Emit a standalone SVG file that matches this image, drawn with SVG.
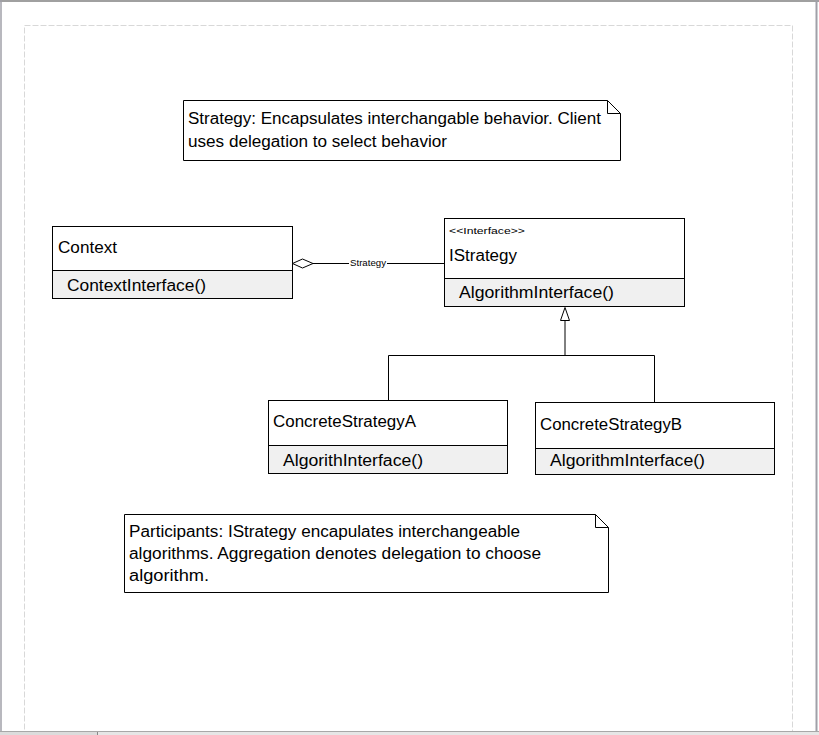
<svg xmlns="http://www.w3.org/2000/svg" width="819" height="735" viewBox="0 0 819 735">
<defs>
<style>
.box{fill:#ffffff;stroke:#000000;stroke-width:1}
.ops{fill:#f0f0f0;stroke:#000000;stroke-width:1}
.t{font-family:"Liberation Sans",Arial,sans-serif;font-size:16px;fill:#000000}
.s{font-family:"Liberation Sans",Arial,sans-serif;font-size:9px;fill:#000000}
.ln{fill:none;stroke:#000000;stroke-width:1}
</style>
<linearGradient id="sh" x1="0" x2="1" y1="0" y2="0">
<stop offset="0" stop-color="#cccccc"/>
<stop offset="0.5" stop-color="#111111"/>
<stop offset="1" stop-color="#999999"/>
</linearGradient>
</defs>
<rect x="0" y="0" width="819" height="735" fill="#ffffff"/>
<g id="frame">
<line x1="0" y1="1" x2="819" y2="1" stroke="#a0a0a0" stroke-width="2"/>
<line x1="1" y1="0" x2="1" y2="735" stroke="#a0a0a8" stroke-width="1.5"/>
<line x1="816.5" y1="0" x2="816.5" y2="735" stroke="#a0a0a8" stroke-width="2"/>
<rect x="24.5" y="25.5" width="768" height="720" fill="none" stroke="#d8d8d8" stroke-width="1" stroke-dasharray="6,2"/>
<rect x="0" y="731" width="819" height="4" fill="#e6e6e6"/>
<line x1="0" y1="731.5" x2="819" y2="731.5" stroke="#a8a8a8"/>
<rect x="0" y="732" width="97" height="3" fill="#dcdcdc"/>
<line x1="97.5" y1="732" x2="97.5" y2="735" stroke="#888888"/>
</g>
<g id="note1">
<path class="box" d="M183.5,100.5 H607.5 L620.5,113.5 V160.5 H183.5 Z"/>
<path class="ln" d="M607.5,100.5 V113.5 H620.5"/>
<text class="t" x="188" y="124" textLength="413" lengthAdjust="spacingAndGlyphs">Strategy: Encapsulates interchangable behavior. Client</text>
<text class="t" x="188" y="147" textLength="259" lengthAdjust="spacingAndGlyphs">uses delegation to select behavior</text>
</g>
<g id="context">
<rect class="box" x="52.5" y="226.5" width="240" height="44"/>
<rect class="ops" x="52.5" y="270.5" width="240" height="28"/>
<text class="t" x="58" y="253" textLength="59" lengthAdjust="spacingAndGlyphs">Context</text>
<text class="t" x="67" y="291" textLength="139" lengthAdjust="spacingAndGlyphs">ContextInterface()</text>
</g>
<g id="istrategy">
<rect class="box" x="444.5" y="218.5" width="240" height="60"/>
<rect class="ops" x="444.5" y="278.5" width="240" height="28"/>
<text class="s" x="449" y="234" textLength="76" lengthAdjust="spacingAndGlyphs">&lt;&lt;Interface&gt;&gt;</text>
<text class="t" x="449" y="261" textLength="68" lengthAdjust="spacingAndGlyphs">IStrategy</text>
<text class="t" x="459" y="298" textLength="155" lengthAdjust="spacingAndGlyphs">AlgorithmInterface()</text>
</g>
<g id="concreteA">
<rect class="box" x="268.5" y="400.5" width="239" height="45"/>
<rect class="ops" x="268.5" y="445.5" width="239" height="28"/>
<text class="t" x="273" y="427" textLength="143" lengthAdjust="spacingAndGlyphs">ConcreteStrategyA</text>
<text class="t" x="283" y="466" textLength="140" lengthAdjust="spacingAndGlyphs">AlgorithInterface()</text>
</g>
<g id="concreteB">
<rect class="box" x="535.5" y="402.5" width="239" height="46"/>
<rect class="ops" x="535.5" y="448.5" width="239" height="26"/>
<text class="t" x="540" y="430" textLength="142" lengthAdjust="spacingAndGlyphs">ConcreteStrategyB</text>
<text class="t" x="550" y="466" textLength="155" lengthAdjust="spacingAndGlyphs">AlgorithmInterface()</text>
</g>
<g id="note2">
<path class="box" d="M124.5,514.5 H595.5 L608.5,527.5 V592.5 H124.5 Z"/>
<path class="ln" d="M595.5,514.5 V527.5 H608.5"/>
<text class="t" x="129" y="537" textLength="391" lengthAdjust="spacingAndGlyphs">Participants: IStrategy encapulates interchangeable</text>
<text class="t" x="129" y="559" textLength="412" lengthAdjust="spacingAndGlyphs">algorithms. Aggregation denotes delegation to choose</text>
<text class="t" x="129" y="581" textLength="80" lengthAdjust="spacingAndGlyphs">algorithm.</text>
<line x1="124" y1="594" x2="248" y2="594" stroke="url(#sh)" stroke-width="1.5"/>
</g>
<g id="connectors">
<path class="box" d="M292.5,263.5 L302.5,259 L313,263.5 L302.5,268 Z"/>
<line class="ln" x1="313" y1="263.5" x2="444" y2="263.5"/>
<rect x="349" y="257" width="38" height="11" fill="#ffffff"/>
<text class="s" x="368" y="266" text-anchor="middle" textLength="36" lengthAdjust="spacingAndGlyphs">Strategy</text>
<path class="box" d="M565,307.5 L569.5,320.5 L560.5,320.5 Z"/>
<path class="ln" d="M565,320.5 V355.5 M388.5,400 V355.5 H654.5 V402"/>
</g>
</svg>
